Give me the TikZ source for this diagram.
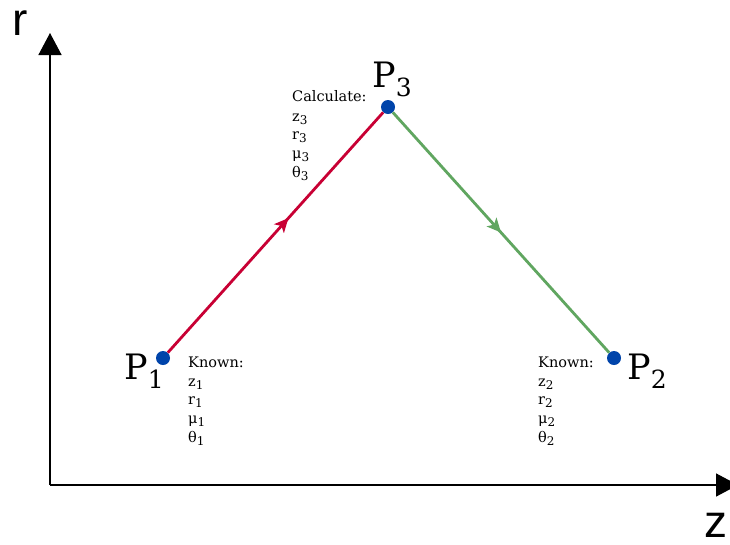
\documentclass[tikz,border=0pt]{standalone}
\usepackage{fontspec}
\setmainfont{DejaVu Serif}
\newfontfamily\axisfont{Liberation Sans}
\usetikzlibrary{arrows.meta,decorations.markings}
\definecolor{lnred}{RGB}{200,0,52}
\definecolor{lngreen}{RGB}{96,166,96}
\definecolor{dotblue}{RGB}{0,68,170}
\tikzset{
  axisline/.style={line width=1.5pt,-{Triangle[length=22pt,width=23pt]}},
  axislabel/.style={font=\axisfont\fontsize{46}{46}\selectfont,inner sep=0pt,anchor=base west},
  ptdot/.style={circle,fill=dotblue,inner sep=0pt,minimum size=14pt},
  ptlabel/.style={inner sep=0pt,anchor=base west},
  infotext/.style={inner sep=0pt,align=left,anchor=north west,font=\fontsize{14.5}{18.6}\selectfont},
  midarrow/.style={postaction={decorate},decoration={markings,mark=at position #1 with {\arrow{Stealth[length=14pt,width=13pt,inset=3.5pt]}}}},
  conn/.style={line width=2.8pt}
}
\newcommand{\plabel}[1]{{\fontsize{35}{35}\selectfont P}\raisebox{-9pt}{\fontsize{25}{25}\selectfont #1}}
\newcommand{\sbs}[1]{\raisebox{-3pt}{\fontsize{12}{12}\selectfont #1}}
\begin{document}
\begin{tikzpicture}[x=1pt,y=-1pt]
\useasboundingbox (0,0) rectangle (730,544);
\clip (0,0) rectangle (730,544);
\fill[white] (0,0) rectangle (730,544);
% axes
\coordinate (O) at (50,485);
\coordinate (rtip) at (50,33);
\coordinate (ztip) at (738,485);
\draw[axisline] (O) -- (rtip);
\draw[axisline] (O) -- (ztip);
\node[axislabel] (rlab) at (12,35) {r};
\node[axislabel] (zlab) at (704,537) {z};
% points
\node[ptdot] (p1) at (163,358) {};
\node[ptdot] (p3) at (388,107) {};
\node[ptdot] (p2) at (614,358) {};
% connectors
\draw[conn,color=lnred,midarrow=0.56] (p1) -- (p3);
\draw[conn,color=lngreen,midarrow=0.5] (p3) -- (p2);
% labels
\node[ptlabel] (l1) at (124,379) {\plabel{1}};
\node[ptlabel] (l3) at (372,87) {\plabel{3}};
\node[ptlabel] (l2) at (627,379) {\plabel{2}};
\node[infotext] (k1) at (188,357) {Known:\\ z\sbs{1}\\ r\sbs{1}\\ μ\sbs{1}\\ θ\sbs{1}};
\node[infotext] (k2) at (538,357) {Known:\\ z\sbs{2}\\ r\sbs{2}\\ μ\sbs{2}\\ θ\sbs{2}};
\node[infotext] (c3) at (292,90) {Calculate:\\[1.5pt] z\sbs{3}\\ r\sbs{3}\\ μ\sbs{3}\\ θ\sbs{3}};
\end{tikzpicture}
\end{document}
